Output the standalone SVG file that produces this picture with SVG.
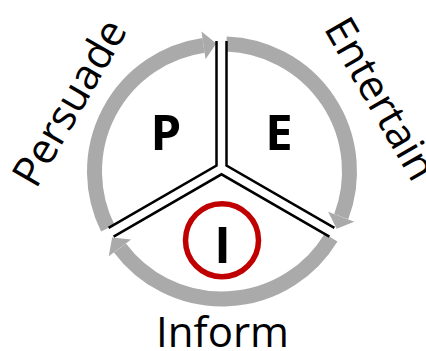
<svg xmlns="http://www.w3.org/2000/svg" width="426" height="351" viewBox="0 0 426 351">
<style>
.ring{fill:none;stroke:#aaaaaa;stroke-width:15;stroke-linecap:butt}
.div{fill:none;stroke:#000;stroke-width:2.5;stroke-linejoin:miter}
.big{font-family:"Open Sans","Noto Sans","Liberation Sans",sans-serif;font-weight:bold;fill:#000;text-anchor:middle}
.lbl{font-family:"Open Sans","Noto Sans","Liberation Sans",sans-serif;font-size:42px;fill:#000;text-anchor:middle}
</style>
<defs>
<marker id="ah" markerUnits="userSpaceOnUse" markerWidth="14" markerHeight="28" refX="0" refY="14" orient="auto" viewBox="0 0 14 28" overflow="visible">
<path d="M0,0 L13,14 L0,28 Z" fill="#aaaaaa"/>
</marker>
</defs>
<rect width="426" height="351" fill="#fff"/>
<g id="connectors">
<path class="ring" d="M226.45,44.08 A127.5,127.5 0 0 1 341.22,216.7" marker-end="url(#ah)"/>
<path class="ring" d="M331.07,237.55 A127.5,127.5 0 0 1 119.94,247.91" marker-end="url(#ah)"/>
<path class="ring" d="M107.8,228.19 A127.5,127.5 0 0 1 203.51,45.35" marker-end="url(#ah)"/>
</g>
<g id="dividers">
<polyline class="div" points="216.5,41 216.5,165.6 108.6,227.9"/>
<polyline class="div" points="226.5,41 226.5,165.6 334.4,227.9"/>
<polyline class="div" points="113.6,236.6 221.5,174.3 329.4,236.6"/>
</g>
<g id="node-P">
<text class="big" x="166" y="150" font-size="49">P</text>
</g>
<g id="node-E">
<text class="big" x="279" y="150" font-size="49">E</text>
</g>
<g id="node-I">
<circle cx="222" cy="240.2" r="36.5" fill="none" stroke="#c00000" stroke-width="5.5"/>
<text class="big" x="222.5" y="263.3" font-size="50">I</text>
</g>
<g id="label-persuade">
<text class="lbl" x="82" y="110" transform="rotate(-60 82 110)">Persuade</text>
</g>
<g id="label-entertain">
<text class="lbl" x="368" y="106" transform="rotate(60 368 106)">Entertain</text>
</g>
<g id="label-inform">
<text class="lbl" x="222.5" y="347">Inform</text>
</g>
</svg>
